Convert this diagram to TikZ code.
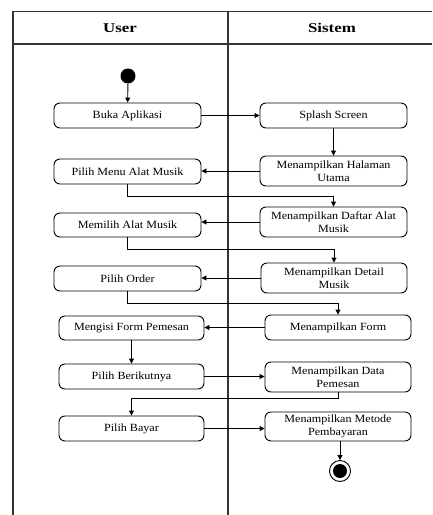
\documentclass[tikz,border=0pt]{standalone}
\usepackage{fontspec}
\setmainfont{Liberation Serif}
\usetikzlibrary{arrows.meta}
\newfontfamily\boxfont[FakeStretch=1.1]{Liberation Serif}
\newfontfamily\headfont[FakeStretch=1.25]{Liberation Serif}
\begin{document}
\begin{tikzpicture}[x=1pt,y=-1pt,
  line width=0.9pt,
  act/.style={draw, rounded corners=6pt, minimum width=147pt, minimum height=25pt,
    inner sep=1pt, align=center, font=\boxfont\fontsize{11}{13.5}\selectfont},
  head/.style={font=\headfont\bfseries\fontsize{13.5}{16}\selectfont},
  flow/.style={-{Triangle[length=5pt,width=5pt]}},
  lane/.style={line width=1.1pt, draw=black!80}]
\useasboundingbox (0,0) rectangle (432,515);

% swimlane frame
\draw[lane] (13,515) -- (13,11.5) -- (432,11.5);
\draw[lane] (13,44) -- (432,44);
\draw[lane] (228,11.5) -- (228,515);
\node[head] (huser) at (120,28) {User};
\node[head] (hsis) at (332,28) {Sistem};

% initial and final states
\node[circle, fill=black, inner sep=0pt, minimum size=15pt] (start) at (128,76) {};
\node[circle, draw, line width=0.9pt, inner sep=0pt, minimum size=21pt] (end) at (340,471) {};
\node[circle, fill=black, inner sep=0pt, minimum size=14pt] (endin) at (340,471) {};

% actions of the user
\node[act] (buka) at (127.5,115.5) {Buka Aplikasi};
\node[act] (menu) at (127.5,171.5) {Pilih Menu Alat Musik};
\node[act, minimum height=24pt] (memilih) at (127.5,225) {Memilih Alat Musik};
\node[act] (order) at (127.5,278.5) {Pilih Order};
\node[act, minimum width=145pt, minimum height=24pt] (mengisi) at (131.5,328) {Mengisi Form Pemesan};
\node[act, minimum width=145pt] (berikut) at (131.5,376.5) {Pilih Berikutnya};
\node[act, minimum width=145pt] (bayar) at (131.5,428.5) {Pilih Bayar};

% actions of the system
\node[act] (splash) at (333.5,115.5) {Splash Screen};
\node[act, minimum height=30pt] (halaman) at (333.5,171) {Menampilkan Halaman\\Utama};
\node[act, minimum height=30pt] (daftar) at (333.5,222) {Menampilkan Daftar Alat\\Musik};
\node[act, minimum width=146pt, minimum height=30pt] (detail) at (334,278) {Menampilkan Detail\\Musik};
\node[act, minimum width=146pt] (form) at (338,327.5) {Menampilkan Form};
\node[act, minimum width=146pt, minimum height=30pt] (data) at (338,377) {Menampilkan Data\\Pemesan};
\node[act, minimum width=146pt, minimum height=29pt] (metode) at (338,426.5) {Menampilkan Metode\\Pembayaran};

% bend points
\coordinate (j1) at (333.5,196);
\coordinate (j2) at (334,249);
\coordinate (j3) at (338,303);
\coordinate (j4) at (131.5,398);

% flow
\draw[flow] (start) -- (buka);
\draw[flow] (buka) -- (splash);
\draw[flow] (splash) -- (halaman);
\draw[flow] (halaman.west) -- (halaman.west -| menu.east);
\draw[flow] (menu.south) |- (j1) -- (daftar.north);
\draw[flow] (daftar.west) -- (daftar.west -| memilih.east);
\draw[flow] (memilih.south) |- (j2) -- (detail.north);
\draw[flow] (detail.west) -- (detail.west -| order.east);
\draw[flow] (order.south) |- (j3) -- (form.north);
\draw[flow] (form.west) -- (form.west -| mengisi.east);
\draw[flow] (mengisi) -- (berikut);
\draw[flow] (berikut.east) -- (berikut.east -| data.west);
\draw[flow] (data.south) |- (j4) -- (bayar.north);
\draw[flow] (bayar.east) -- (bayar.east -| metode.west);
\draw[flow] (metode.south -| end) -- (end.north);
\end{tikzpicture}
\end{document}
